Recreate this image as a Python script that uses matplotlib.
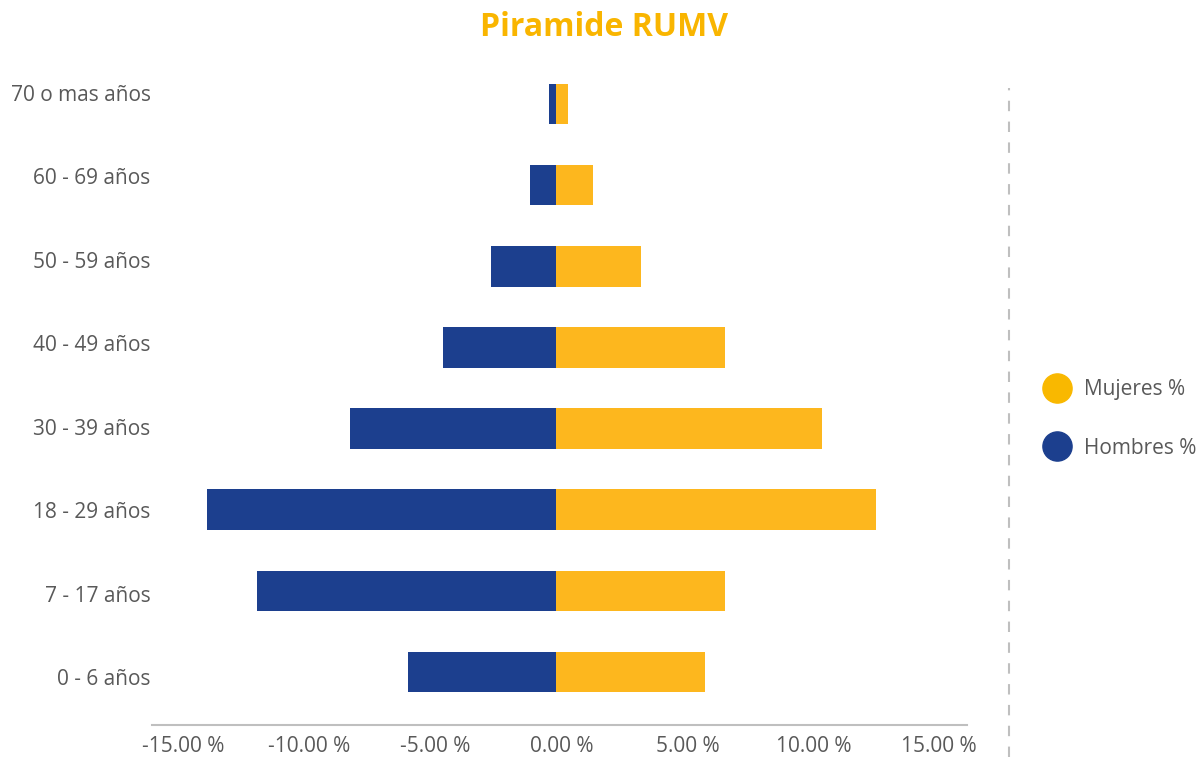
import matplotlib
matplotlib.use("Agg")
import matplotlib.pyplot as plt
import matplotlib.transforms as mtransforms
from matplotlib.lines import Line2D

plt.rcParams['font.family'] = ['Open Sans', 'DejaVu Sans']

categories = ["0 - 6 años", "7 - 17 años", "18 - 29 años", "30 - 39 años",
              "40 - 49 años", "50 - 59 años", "60 - 69 años", "70 o mas años"]
mujeres = [5.9, 6.7, 12.7, 10.55, 6.7, 3.35, 1.47, 0.48]
hombres = [-5.9, -11.9, -13.85, -8.2, -4.5, -2.58, -1.03, -0.28]
xticks = [-15, -10, -5, 0, 5, 10, 15]

BLUE = "#1C3F8E"
GOLD = "#FDB71E"
GREY_TXT = "#595959"
GREY_LINE = "#BFBFBF"

W, H = 1202, 757
fig = plt.figure(figsize=(W / 100, H / 100), dpi=100)
ax = fig.add_axes([152 / W, (H - 725) / H, (967 - 152) / W, (725 - 60) / H])

y = list(range(len(categories)))
ax.barh(y, hombres, height=0.5, color=BLUE, label="Hombres %")
ax.barh(y, mujeres, height=0.5, color=GOLD, label="Mujeres %")

ax.set_xlim(-16.05, 16.3)
ax.set_ylim(-0.653, 7.542)
# category labels in the reference sit on a slightly wider grid than the bars
ax.set_yticks([-0.0616 + 1.0282 * i for i in y])
ax.set_yticklabels(categories)
ax.set_xticks(xticks)
ax.set_xticklabels([f"{v:.2f} %" for v in xticks])
ax.tick_params(axis='both', length=0, labelsize=15, colors=GREY_TXT)
ax.tick_params(axis='x', pad=8)
ax.tick_params(axis='y', pad=1)
offset = mtransforms.ScaledTranslation(5 / 100, 0, fig.dpi_scale_trans)
for lbl in ax.get_xticklabels():
    lbl.set_transform(lbl.get_transform() + offset)
for s in ['top', 'right', 'left']:
    ax.spines[s].set_visible(False)
ax.spines['bottom'].set_color(GREY_LINE)
ax.spines['bottom'].set_linewidth(1.5)

fig.text(604 / W, 1 - 27 / H, "Piramide RUMV", ha='center', va='center',
         fontsize=23, fontweight='bold', color="#F9B500")

# dashed separator
fig.add_artist(Line2D([1009 / W, 1009 / W], [0, (H - 88) / H], transform=fig.transFigure,
                      color=GREY_LINE, linewidth=1.5, linestyle=(0, (5, 5))))

handles = [Line2D([], [], marker='o', linestyle='none', markersize=21,
                  markerfacecolor="#F9B800", markeredgecolor="#F9B800", label="Mujeres %"),
           Line2D([], [], marker='o', linestyle='none', markersize=21,
                  markerfacecolor=BLUE, markeredgecolor=BLUE, label="Hombres %")]
leg = fig.legend(handles=handles, loc='center left', bbox_to_anchor=(1023 / W, 1 - 419 / H),
                 frameon=False, fontsize=15, labelspacing=1.8, handletextpad=0.55,
                 handlelength=1.5)
for t in leg.get_texts():
    t.set_color(GREY_TXT)

fig.savefig("out.png", dpi=100)
